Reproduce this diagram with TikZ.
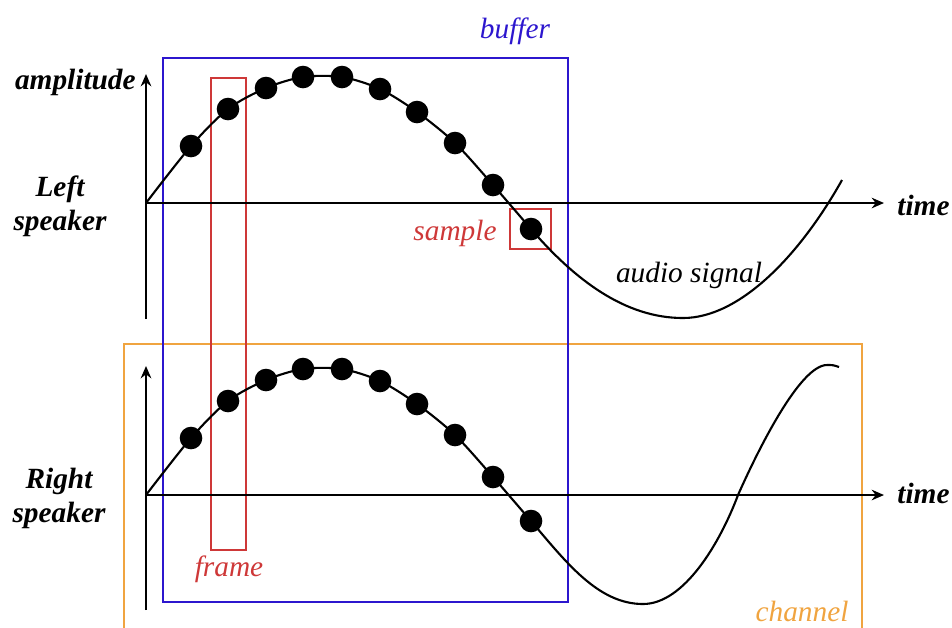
\documentclass[tikz,border=0pt]{standalone}
\usepackage{fontspec}
\setmainfont{Liberation Serif}
\usetikzlibrary{arrows.meta}
\definecolor{bufblue}{RGB}{44,22,206}
\definecolor{framered}{RGB}{206,56,56}
\definecolor{chanorange}{RGB}{240,164,64}
\tikzset{
  axlabel/.style={font=\fontsize{16.7}{19.3}\selectfont\bfseries\itshape, align=center, inner sep=0pt},
  taglabel/.style={font=\fontsize{16.7}{19.3}\selectfont\itshape, inner sep=0pt},
  axis/.style={line width=1.5pt, ->},
  signal/.style={line width=1.2pt},
  box/.style={line width=1.4pt}
}
\begin{document}
\begin{tikzpicture}[x=0.02cm, y=-0.02cm, >={Stealth[length=7pt,width=6pt]}]
\useasboundingbox (0,0) rectangle (952,627);
\clip (0,0) rectangle (952,627);

\coordinate (topO) at (146,203);
\coordinate (topY0) at (146,319);
\coordinate (topY1) at (146,74);
\coordinate (topX1) at (884,203);
\coordinate (botO) at (146,495);
\coordinate (botY0) at (146,610);
\coordinate (botY1) at (146,366);
\coordinate (botX1) at (884,495);

\draw[box, chanorange] (124,640) -- (124,344) -- (862,344) -- (862,640);
\draw[box, bufblue] (163,58) rectangle (568,602);
\draw[box, framered] (211,78) rectangle (246,550);
\draw[box, framered] (510,209) rectangle (551,249);

\draw[axis] (topY0) -- (topY1);
\draw[axis] (topO) -- (topX1);
\draw[axis] (botY0) -- (botY1);
\draw[axis] (botO) -- (botX1);

\draw[signal] plot[smooth] coordinates {(146,203) (191,146) (228,109) (266,88) (303,77) (342,77) (380,89) (417,112) (455,143) (493,185) (531,229)}
  .. controls (575,280) and (625,318) .. (683,318)
  .. controls (740,318) and (800,255) .. (842,180);
\draw[signal] plot[smooth] coordinates {(146,495) (191,438) (228,401) (266,380) (303,369) (342,369) (380,381) (417,404) (455,435) (493,477) (531,521)}
  .. controls (566,562) and (598,604) .. (643,604)
  .. controls (684,604) and (720,543) .. (738,495)
  .. controls (758,450) and (800,365) .. (827,365)
  .. controls (833,365) .. (839,367);

\foreach \x/\y in {191/146, 228/109, 266/88, 303/77, 342/77, 380/89, 417/112, 455/143, 493/185, 531/229} {
  \fill (\x,\y) circle[radius=11.3];
  \fill (\x,\y+292) circle[radius=11.3];
}

\node[axlabel, anchor=base east] (ampl) at (136,89) {amplitude};
\node[axlabel, anchor=base] (leftspk) at (60,230) {Left\\speaker};
\node[axlabel, anchor=base] (rightspk) at (59,522) {Right\\speaker};
\node[axlabel, anchor=base west] (timeL) at (897,215) {time};
\node[axlabel, anchor=base west] (timeR) at (897,503) {time};

\node[taglabel, bufblue, anchor=base] (buflbl) at (515,38) {buffer};
\node[taglabel, framered, anchor=base] (samplelbl) at (455,240) {sample};
\node[taglabel, framered, anchor=base] (framelbl) at (229,576) {frame};
\node[taglabel, anchor=base] (siglbl) at (689,282) {audio signal};
\node[taglabel, chanorange, anchor=base] (chanlbl) at (802,621) {channel};
\end{tikzpicture}
\end{document}
